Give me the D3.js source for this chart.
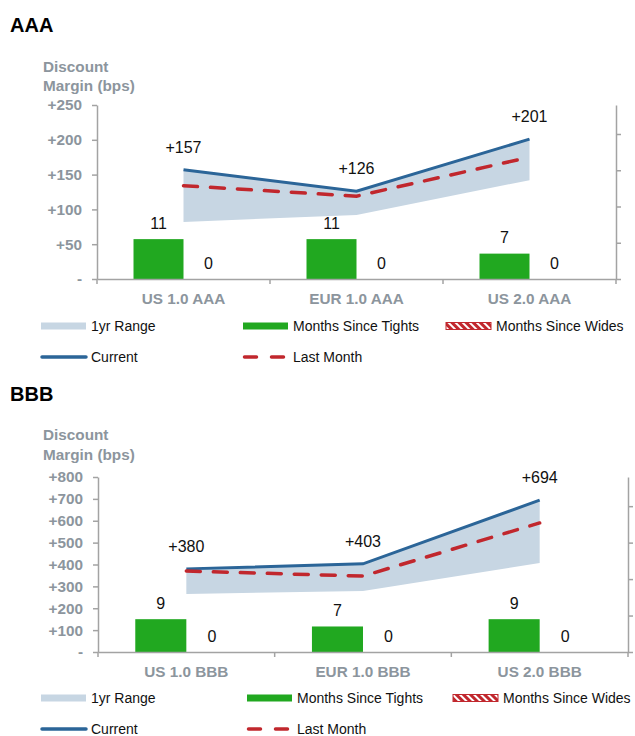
<!DOCTYPE html>
<html>
<head>
<meta charset="utf-8">
<script src="https://cdn.jsdelivr.net/npm/d3@7/dist/d3.min.js"></script>
<style>
  html, body { margin: 0; padding: 0; background: #fff; }
  svg { display: block; font-family: "Liberation Sans", Arial, Helvetica, sans-serif; }
</style>
</head>
<body>
<svg id="chart" width="635" height="736"></svg>
<script>
// ---- AAA panel data ----
const aaaCategories   = ["US 1.0 AAA", "EUR 1.0 AAA", "US 2.0 AAA"];
const aaaCurrent      = [157, 126, 201];
const aaaLastMonth    = [134, 119, 175];
const aaaRangeLow     = [82, 92, 142];
const aaaRangeHigh    = [157, 126, 201];
const aaaMonthsTights = [11, 11, 7];
const aaaMonthsWides  = [0, 0, 0];
const aaaTicks        = [0, 50, 100, 150, 200, 250];

// ---- BBB panel data ----
const bbbCategories   = ["US 1.0 BBB", "EUR 1.0 BBB", "US 2.0 BBB"];
const bbbCurrent      = [380, 403, 694];
const bbbLastMonth    = [370, 347, 590];
const bbbRangeLow     = [265, 279, 407];
const bbbRangeHigh    = [380, 403, 694];
const bbbMonthsTights = [9, 7, 9];
const bbbMonthsWides  = [0, 0, 0];
const bbbTicks        = [0, 100, 200, 300, 400, 500, 600, 700, 800];

// secondary (months) axis
const monthsMax   = 48;
const monthsTicks = [0, 10, 20, 30, 40];

const legendLabels = ["1yr Range", "Months Since Tights", "Months Since Wides", "Current", "Last Month"];

// ---- styling ----
const C = {
  range: "#c7d6e3",
  current: "#2b6598",
  last: "#c1272d",
  tights: "#21a820",
  wides: "#c1272d",
  axis: "#a3a3a3",
  axisText: "#8c959d",
  text: "#111"
};

const svg = d3.select("#chart");

// hatch pattern for "Months Since Wides"
const defs = svg.append("defs");
const pat = defs.append("pattern")
  .attr("id", "hatch").attr("patternUnits", "userSpaceOnUse")
  .attr("width", 5).attr("height", 5)
  .attr("patternTransform", "rotate(-45)");
pat.append("rect").attr("width", 5).attr("height", 5).attr("fill", "#fff");
pat.append("rect").attr("width", 3).attr("height", 5).attr("fill", C.wides);

function drawPanel(title, cats, current, last, low, high, tights, wides, ticks, L) {
  const g = svg.append("g");
  const yMax = d3.max(ticks);

  const x = d3.scaleBand().domain(cats).range([L.left, L.right]);
  const cx = c => x(c) + x.bandwidth() / 2;
  const y = d3.scaleLinear().domain([0, yMax]).range([L.bottom, L.top]);
  const y2 = d3.scaleLinear().domain([0, monthsMax]).range([L.bottom, L.top]);
  const bw = x.bandwidth() * 0.289;
  const sub = d3.scaleBand().domain(["tights", "wides"]).range([-bw, bw]);

  const rows = cats.map((c, i) => ({
    cat: c, current: current[i], last: last[i], low: low[i], high: high[i],
    tights: tights[i], wides: wides[i]
  }));

  // title and axis title
  g.append("text").attr("x", 10).attr("y", L.titleY)
    .attr("font-size", 20).attr("font-weight", "bold").attr("fill", "#000").text(title);
  ["Discount", "Margin (bps)"].forEach((t, i) => {
    g.append("text").attr("x", 43).attr("y", L.axisTitleY[i])
      .attr("font-size", 15.3).attr("font-weight", "bold").attr("fill", C.axisText).text(t);
  });

  // 1yr range band
  g.append("path").datum(rows)
    .attr("fill", C.range)
    .attr("d", d3.area().x(d => cx(d.cat)).y0(d => y(d.low)).y1(d => y(d.high)));

  // months bars (secondary axis)
  const bars = [];
  rows.forEach(d => {
    bars.push({ cat: d.cat, key: "tights", v: d.tights });
    bars.push({ cat: d.cat, key: "wides", v: d.wides });
  });
  g.selectAll("rect.bar").data(bars).join("rect").attr("class", "bar")
    .attr("x", d => cx(d.cat) + sub(d.key))
    .attr("width", sub.bandwidth())
    .attr("y", d => y2(d.v))
    .attr("height", d => y2(0) - y2(d.v))
    .attr("fill", d => d.key === "tights" ? C.tights : "url(#hatch)")
    .attr("stroke", d => d.key === "wides" && d.v > 0 ? C.wides : "none");
  g.selectAll("text.barlbl").data(bars).join("text").attr("class", "barlbl")
    .attr("x", d => cx(d.cat) + sub(d.key) + sub.bandwidth() / 2)
    .attr("y", d => y2(d.v) - 10.5)
    .attr("text-anchor", "middle").attr("font-size", 16).attr("fill", C.text)
    .text(d => d.v);

  // current and last month lines
  g.append("path").datum(rows)
    .attr("fill", "none").attr("stroke", C.current).attr("stroke-width", 3)
    .attr("d", d3.line().x(d => cx(d.cat)).y(d => y(d.current)));
  g.append("path").datum(rows)
    .attr("fill", "none").attr("stroke", C.last).attr("stroke-width", 3.5)
    .attr("stroke-dasharray", "14,13").attr("stroke-linecap", "round")
    .attr("d", d3.line().x(d => cx(d.cat)).y(d => y(d.last)));

  g.selectAll("text.curlbl").data(rows).join("text").attr("class", "curlbl")
    .attr("x", d => cx(d.cat)).attr("y", d => y(d.current) - 17)
    .attr("text-anchor", "middle").attr("font-size", 16).attr("fill", C.text)
    .text(d => "+" + d.current);

  // left axis
  const ya = g.append("g").attr("transform", `translate(${L.left},0)`)
    .call(d3.axisLeft(y).tickValues(ticks).tickSize(5).tickSizeOuter(0).tickPadding(10)
      .tickFormat(d => d === 0 ? "-" : "+" + d));
  // right (months) axis
  const ra = g.append("g").attr("transform", `translate(${L.right},0)`)
    .call(d3.axisRight(y2).tickValues(monthsTicks).tickSize(5).tickSizeOuter(0).tickFormat(""));
  // bottom axis with category labels
  const xa = g.append("g").attr("transform", `translate(0,${L.bottom})`)
    .call(d3.axisBottom(x).tickSize(0).tickSizeOuter(0).tickPadding(L.catPad));
  // category boundary ticks
  const bounds = cats.map(c => x(c)).concat([x.range()[1]]);
  g.selectAll("line.bt").data(bounds).join("line").attr("class", "bt")
    .attr("x1", d => d).attr("x2", d => d)
    .attr("y1", L.bottom).attr("y2", L.bottom + 5)
    .attr("stroke", C.axis).attr("stroke-width", 1.5);

  [ya, ra, xa].forEach(a => {
    a.selectAll("path.domain, line").attr("stroke", C.axis).attr("stroke-width", 1.5);
    a.selectAll("text").attr("font-size", 15.3).attr("font-weight", "bold")
      .attr("fill", C.axisText).attr("font-family", null);
    a.attr("font-family", null).attr("font-size", null);
  });

  // legend
  const lg = g.append("g");
  const items = [
    { label: legendLabels[0], col: 0, row: 0, type: "range" },
    { label: legendLabels[1], col: 1, row: 0, type: "tights" },
    { label: legendLabels[2], col: 2, row: 0, type: "wides" },
    { label: legendLabels[3], col: 0, row: 1, type: "current" },
    { label: legendLabels[4], col: 1, row: 1, type: "last" }
  ];
  items.forEach(it => {
    const sx = L.legendX[it.col], sy = L.legendY[it.row];
    if (it.type === "range" || it.type === "tights" || it.type === "wides") {
      lg.append("rect").attr("x", sx).attr("y", sy - 3.5).attr("width", 45).attr("height", 7)
        .attr("fill", it.type === "range" ? C.range : it.type === "tights" ? C.tights : "url(#hatch)")
        .attr("stroke", it.type === "wides" ? C.wides : "none").attr("stroke-width", 1);
    } else if (it.type === "current") {
      lg.append("line").attr("x1", sx + 1).attr("x2", sx + 45).attr("y1", sy).attr("y2", sy)
        .attr("stroke", C.current).attr("stroke-width", 3.5).attr("stroke-linecap", "round");
    } else {
      lg.append("line").attr("x1", sx + 1.5).attr("x2", sx + 44).attr("y1", sy).attr("y2", sy)
        .attr("stroke", C.last).attr("stroke-width", 3.5).attr("stroke-linecap", "round")
        .attr("stroke-dasharray", "12,15");
    }
    lg.append("text").attr("x", sx + 50).attr("y", sy + 5)
      .attr("font-size", 14).attr("fill", C.text).text(it.label);
  });
}

drawPanel("AAA", aaaCategories, aaaCurrent, aaaLastMonth, aaaRangeLow, aaaRangeHigh,
  aaaMonthsTights, aaaMonthsWides, aaaTicks,
  { top: 105, bottom: 279, left: 97, right: 616, titleY: 31.5, axisTitleY: [71.5, 90.5],
    catPad: 14, legendY: [326, 357], legendX: [41, 243, 446] });

drawPanel("BBB", bbbCategories, bbbCurrent, bbbLastMonth, bbbRangeLow, bbbRangeHigh,
  bbbMonthsTights, bbbMonthsWides, bbbTicks,
  { top: 477, bottom: 652, left: 98, right: 628, titleY: 401, axisTitleY: [439.5, 459.5],
    catPad: 14, legendY: [698, 729], legendX: [41, 247, 453] });
</script>
</body>
</html>
